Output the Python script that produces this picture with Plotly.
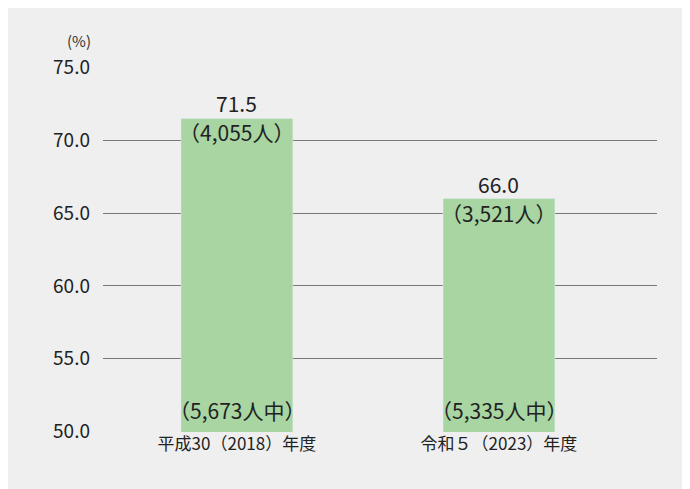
import plotly.graph_objects as go

categories = ["平成30（2018）年度", "令和５（2023）年度"]
values = [71.5, 66.0]
counts = ["（4,055人）", "（3,521人）"]
totals = ["（5,673人中）", "（5,335人中）"]
tickvals = [50, 55, 60, 65, 70, 75]
ticktext = ["50.0", "55.0", "60.0", "65.0", "70.0", "75.0"]

F = "Noto Sans CJK JP"
fig = go.Figure(go.Bar(x=[0, 1], y=values, width=0.427, marker_color="#a8d5a2"))
for i, (v, c, t) in enumerate(zip(values, counts, totals)):
    fig.add_annotation(x=i, y=v, text=f"{v:.1f}", showarrow=False, yshift=15, font=dict(size=21, color="#222"))
    fig.add_annotation(x=i, y=v, text=c, showarrow=False, yshift=-14, font=dict(size=21, color="#222"))
    fig.add_annotation(x=i, y=50, text=t, showarrow=False, yshift=22, font=dict(size=21, color="#222"))
fig.add_annotation(x=0, y=1, xref="paper", yref="paper", text="(%)", showarrow=False,
                   xanchor="right", yanchor="bottom", xshift=-10, yshift=14, font=dict(size=15, color="#333"))
fig.update_layout(
    width=690, height=489, margin=dict(l=95, r=41, t=59, b=65),
    paper_bgcolor="#efefef", plot_bgcolor="#efefef", font=dict(family=F, color="#333"),
    showlegend=False,
    xaxis=dict(range=[-0.511, 1.603], tickvals=[0, 1], ticktext=categories, tickfont=dict(size=17, color="#222"),
               showgrid=False, zeroline=False, showline=False, fixedrange=True),
    yaxis=dict(range=[49.97, 75.03], tickvals=tickvals, ticktext=ticktext, tickfont=dict(size=19, color="#222"),
               gridcolor="#777", gridwidth=1, zeroline=False, ticklabelstandoff=12, fixedrange=True),
)
fig.write_html("out.html")
